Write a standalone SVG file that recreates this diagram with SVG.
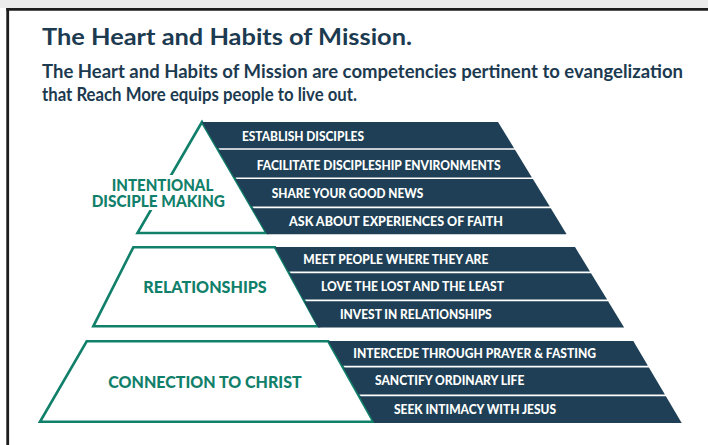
<svg xmlns="http://www.w3.org/2000/svg" width="708" height="445" viewBox="0 0 708 445">
<defs>
<style>
.head{font-family:Lato,"Open Sans","Liberation Sans",sans-serif;font-weight:700;fill:#1c3a50}
.band{fill:#1e3f55}
.bt{font-family:Lato,"Open Sans","Liberation Sans",sans-serif;font-weight:900;font-size:13.3px;fill:#ffffff}
.tier{fill:#ffffff;stroke:#11806a;stroke-width:2.6;stroke-linejoin:miter}
.lab{font-family:Lato,"Open Sans","Liberation Sans",sans-serif;font-weight:900;font-size:17px;fill:#11806a}
.knock{fill:#ffffff}
</style>
</defs>
<rect x="0" y="0" width="708" height="445" fill="#ffffff"/>
<rect x="0" y="0" width="708" height="8" fill="#ececec"/>
<g id="frame" stroke="#1e1e1e" stroke-width="2.8" fill="none">
<line x1="6.3" y1="9.3" x2="708" y2="9.3"/>
<line x1="7.7" y1="8" x2="7.7" y2="445"/>
</g>
<g id="heading">
<text class="head" x="42" y="44.5" font-size="22.5" textLength="370" lengthAdjust="spacingAndGlyphs">The Heart and Habits of Mission.</text>
<text class="head" x="42" y="77.5" font-size="18" textLength="641" lengthAdjust="spacingAndGlyphs">The Heart and Habits of Mission are competencies pertinent to evangelization</text>
<text class="head" x="42" y="100.5" font-size="18" textLength="315" lengthAdjust="spacingAndGlyphs">that Reach More equips people to live out.</text>
</g>
<g id="tier-intentional">
<polygon class="tier" points="202,122 137.5,233 266.5,233"/>
<rect class="knock" x="108" y="175" width="110" height="18"/>
<rect class="knock" x="88" y="193" width="141" height="17"/>
<text class="lab"><tspan x="111.7" y="190.5" textLength="101.6" lengthAdjust="spacingAndGlyphs">INTENTIONAL</tspan><tspan x="91.7" y="206.8" textLength="133.3" lengthAdjust="spacingAndGlyphs">DISCIPLE MAKING</tspan></text>
</g>
<g id="band-establish">
<polygon class="band" points="202,122 498,122 514.1,148.2 217.2,148.2"/>
<text class="bt" x="242" y="141" textLength="122" lengthAdjust="spacingAndGlyphs">ESTABLISH DISCIPLES</text>
</g>
<g id="band-facilitate">
<polygon class="band" points="218.1,149.8 515,149.8 531.9,177.4 234.2,177.4"/>
<text class="bt" x="256.7" y="169.6" textLength="244" lengthAdjust="spacingAndGlyphs">FACILITATE DISCIPLESHIP ENVIRONMENTS</text>
</g>
<g id="band-share">
<polygon class="band" points="235.1,179 532.9,179 549.8,206.6 251.1,206.6"/>
<text class="bt" x="271.7" y="198" textLength="151.6" lengthAdjust="spacingAndGlyphs">SHARE YOUR GOOD NEWS</text>
</g>
<g id="band-ask">
<polygon class="band" points="252,208.2 550.8,208.2 566.6,234.3 267,234.3"/>
<text class="bt" x="289" y="226" textLength="214" lengthAdjust="spacingAndGlyphs">ASK ABOUT EXPERIENCES OF FAITH</text>
</g>
<g id="tier-relationships">
<polygon class="tier" points="133.3,247.3 275,247.3 318.3,326.3 93.3,326.3"/>
<text class="lab" x="143.3" y="293.3" textLength="123.4" lengthAdjust="spacingAndGlyphs">RELATIONSHIPS</text>
</g>
<g id="band-meet">
<polygon class="band" points="275,247 575,247 590,271.6 288.2,271.6"/>
<text class="bt" x="303.3" y="263.5" textLength="185" lengthAdjust="spacingAndGlyphs">MEET PEOPLE WHERE THEY ARE</text>
</g>
<g id="band-love">
<polygon class="band" points="289.1,273.2 591,273.2 607.1,299.6 303.3,299.6"/>
<text class="bt" x="321" y="290.8" textLength="183" lengthAdjust="spacingAndGlyphs">LOVE THE LOST AND THE LEAST</text>
</g>
<g id="band-invest">
<polygon class="band" points="304.1,301.2 608.1,301.2 624.1,327.5 318.3,327.5"/>
<text class="bt" x="340" y="319" textLength="151.7" lengthAdjust="spacingAndGlyphs">INVEST IN RELATIONSHIPS</text>
</g>
<g id="tier-connection">
<polygon class="tier" points="86.7,341.3 328.3,341.3 373.5,421.8 40,421.8"/>
<text class="lab" x="108.3" y="388.3" textLength="193.4" lengthAdjust="spacingAndGlyphs">CONNECTION TO CHRIST</text>
</g>
<g id="band-intercede">
<polygon class="band" points="328.3,341 633.3,341 647.9,365.8 342.3,365.8"/>
<text class="bt" x="353.3" y="357.6" textLength="242.7" lengthAdjust="spacingAndGlyphs">INTERCEDE THROUGH PRAYER &amp; FASTING</text>
</g>
<g id="band-sanctify">
<polygon class="band" points="343.2,367.4 648.9,367.4 664.9,394.6 358.5,394.6"/>
<text class="bt" x="375" y="385.3" textLength="149.3" lengthAdjust="spacingAndGlyphs">SANCTIFY ORDINARY LIFE</text>
</g>
<g id="band-seek">
<polygon class="band" points="359.4,396.2 665.9,396.2 681.7,423 374.4,423"/>
<text class="bt" x="394" y="413.5" textLength="162" lengthAdjust="spacingAndGlyphs">SEEK INTIMACY WITH JESUS</text>
</g>
</svg>
